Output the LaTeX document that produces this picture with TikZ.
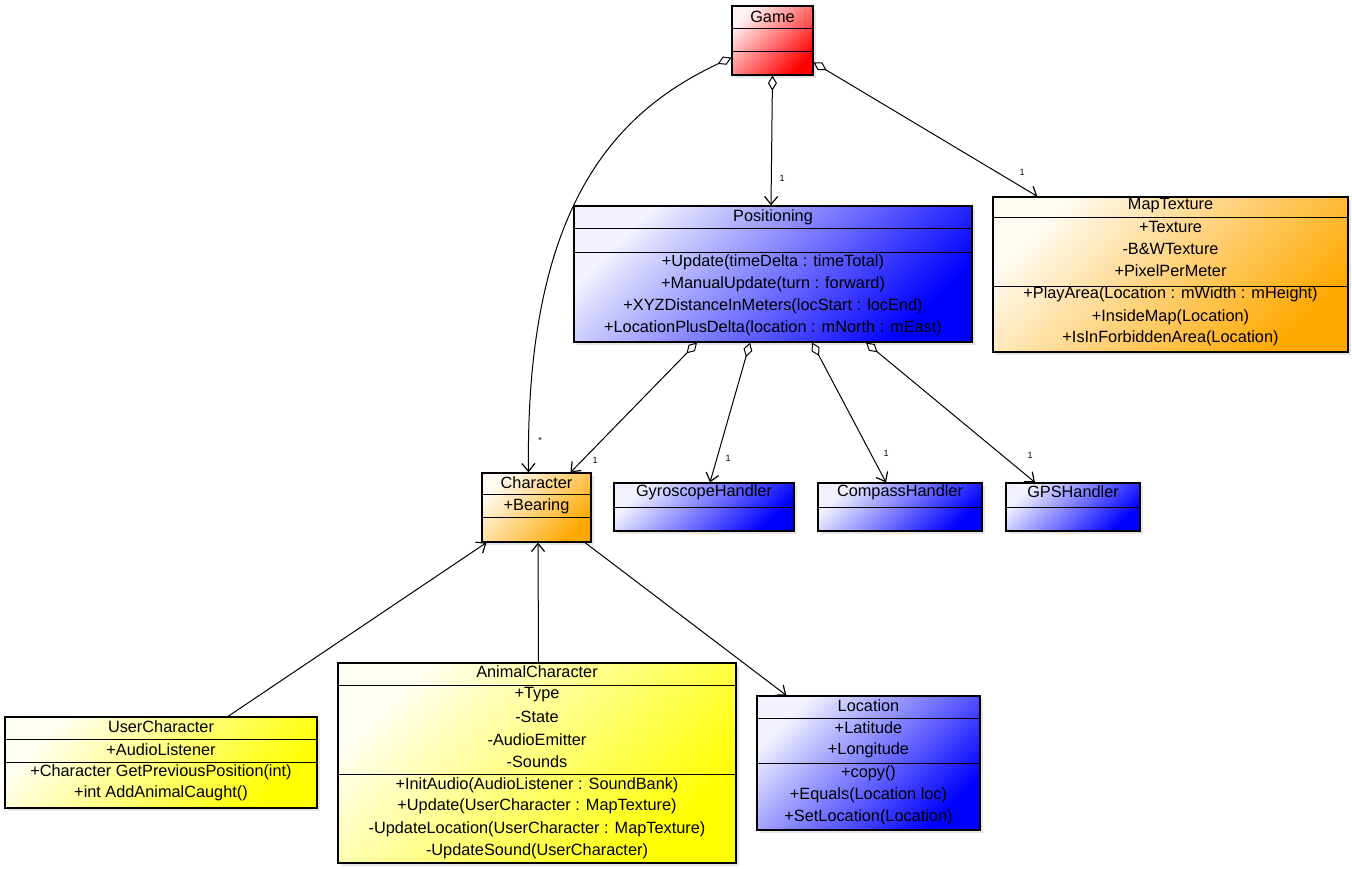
\documentclass[tikz,border=0pt]{standalone}
\usepackage{fontspec}
\setmainfont{Liberation Sans}
\usetikzlibrary{arrows.meta,shadows,calc}
\definecolor{orng}{RGB}{255,168,0}
\begin{document}
\begin{tikzpicture}[x=1pt,y=-1pt,
  cls/.style={draw=black, line width=1.2pt, inner sep=0pt,
    drop shadow={shadow xshift=3pt,shadow yshift=-3pt,opacity=0.2}},
  redcls/.style={cls, top color=red!5!white, middle color=red!62!white, bottom color=red, shading angle=45},
  bluecls/.style={cls, top color=blue!5!white, middle color=blue!62!white, bottom color=blue, shading angle=45},
  orangecls/.style={cls, top color=orng!5!white, middle color=orng!62!white, bottom color=orng, shading angle=45},
  yellowcls/.style={cls, top color=yellow!5!white, middle color=yellow!62!white, bottom color=yellow, shading angle=45},
  sep/.style={line width=1pt},
  txt/.style={inner sep=0pt, font=\fontsize{16.3}{18}\selectfont},
  mult/.style={inner sep=0pt, font=\fontsize{9}{10}\selectfont},
  rel/.style={line width=1pt, -{Straight Barb[length=8pt,width=13pt,line width=1.2pt]}},
  agg/.style={line width=1pt, {Diamond[open,length=15pt,width=9pt,line width=1pt]}-{Straight Barb[length=8pt,width=13pt,line width=1.2pt]}}
]
\useasboundingbox (0,0) rectangle (1352,869);

% Game
\node[redcls, minimum width=81, minimum height=69] (game) at (772.5,40.5) {};
\draw[sep] (game.west |- 0,29) -- (game.east |- 0,29);
\draw[sep] (game.west |- 0,52) -- (game.east |- 0,52);
\node[txt] (gameT) at (772.5,17) {Game};

% Positioning
\node[bluecls, minimum width=398, minimum height=136] (pos) at (773,274) {};
\draw[sep] (pos.west |- 0,229) -- (pos.east |- 0,229);
\draw[sep] (pos.west |- 0,252) -- (pos.east |- 0,252);
\node[txt] (posT) at (773,217) {Positioning};
\node[txt] (posM1) at (773,262) {+Update(timeDelta : timeTotal)};
\node[txt] (posM2) at (773,284) {+ManualUpdate(turn : forward)};
\node[txt] (posM3) at (773,306) {+XYZDistanceInMeters(locStart : locEnd)};
\node[txt] (posM4) at (773,328) {+LocationPlusDelta(location : mNorth : mEast)};

% MapTexture
\node[orangecls, minimum width=355, minimum height=155] (map) at (1170.5,274.5) {};
\draw[sep] (map.west |- 0,218) -- (map.east |- 0,218);
\draw[sep] (map.west |- 0,286) -- (map.east |- 0,286);
\node[txt] (mapT) at (1170.5,206) {MapTexture};
\node[txt] (mapA1) at (1170.5,227) {+Texture};
\node[txt] (mapA2) at (1170.5,249) {-B\&WTexture};
\node[txt] (mapA3) at (1170.5,271) {+PixelPerMeter};
\node[txt] (mapM1) at (1170.5,294) {+PlayArea(Location : mWidth : mHeight)};
\node[txt] (mapM2) at (1170.5,317) {+InsideMap(Location)};
\node[txt] (mapM3) at (1170.5,338) {+IsInForbiddenArea(Location)};

% Character
\node[orangecls, minimum width=109, minimum height=69] (char) at (536.5,507.5) {};
\draw[sep] (char.west |- 0,494) -- (char.east |- 0,494);
\draw[sep] (char.west |- 0,517) -- (char.east |- 0,517);
\node[txt] (charT) at (536.5,483) {Character};
\node[txt] (charA1) at (536.5,506) {+Bearing};

% Handlers
\node[bluecls, minimum width=180, minimum height=48] (gyro) at (704,507) {};
\draw[sep] (gyro.west |- 0,507) -- (gyro.east |- 0,507);
\node[txt] (gyroT) at (704,492) {GyroscopeHandler};

\node[bluecls, minimum width=164, minimum height=48] (comp) at (900,507) {};
\draw[sep] (comp.west |- 0,507) -- (comp.east |- 0,507);
\node[txt] (compT) at (900,492) {CompassHandler};

\node[bluecls, minimum width=134, minimum height=48] (gps) at (1073,507) {};
\draw[sep] (gps.west |- 0,507) -- (gps.east |- 0,507);
\node[txt] (gpsT) at (1073,492) {GPSHandler};

% UserCharacter
\node[yellowcls, minimum width=312, minimum height=91] (user) at (161,762.5) {};
\draw[sep] (user.west |- 0,739) -- (user.east |- 0,739);
\draw[sep] (user.west |- 0,762) -- (user.east |- 0,762);
\node[txt] (userT) at (161,727) {UserCharacter};
\node[txt] (userA1) at (161,750) {+AudioListener};
\node[txt] (userM1) at (161,772) {+Character GetPreviousPosition(int)};
\node[txt] (userM2) at (161,793) {+int AddAnimalCaught()};

% AnimalCharacter
\node[yellowcls, minimum width=398, minimum height=200] (animal) at (537,763) {};
\draw[sep] (animal.west |- 0,685) -- (animal.east |- 0,685);
\draw[sep] (animal.west |- 0,774) -- (animal.east |- 0,774);
\node[txt] (animalT) at (537,672) {AnimalCharacter};
\node[txt] (animalA1) at (537,695) {+Type};
\node[txt] (animalA2) at (537,717) {-State};
\node[txt] (animalA3) at (537,740) {-AudioEmitter};
\node[txt] (animalA4) at (537,762) {-Sounds};
\node[txt] (animalM1) at (537,785) {+InitAudio(AudioListener : SoundBank)};
\node[txt] (animalM2) at (537,806) {+Update(UserCharacter : MapTexture)};
\node[txt] (animalM3) at (537,829) {-UpdateLocation(UserCharacter : MapTexture)};
\node[txt] (animalM4) at (537,851) {-UpdateSound(UserCharacter)};

% Location
\node[bluecls, minimum width=223, minimum height=134] (loc) at (868.5,763) {};
\draw[sep] (loc.west |- 0,718) -- (loc.east |- 0,718);
\draw[sep] (loc.west |- 0,763) -- (loc.east |- 0,763);
\node[txt] (locT) at (868.5,706) {Location};
\node[txt] (locA1) at (868.5,728) {+Latitude};
\node[txt] (locA2) at (868.5,750) {+Longitude};
\node[txt] (locM1) at (868.5,773) {+copy()};
\node[txt] (locM2) at (868.5,795) {+Equals(Location loc)};
\node[txt] (locM3) at (868.5,817) {+SetLocation(Location)};

% Connectors
\draw[agg] ([yshift=-17]game.west) .. controls (620,110) and (525,200) .. ([xshift=-8]char.north);
\draw[agg] (game.south) -- ([xshift=-2]pos.north);
\draw[agg] ([yshift=-22]game.east) -- ([xshift=45]map.north west);
\draw[agg] ([xshift=-76]pos.south) -- ([xshift=34]char.north);
\draw[agg] ([xshift=-23]pos.south) -- ([xshift=6]gyro.north);
\draw[agg] ([xshift=39]pos.south) -- ([xshift=-14]comp.north);
\draw[agg] ([xshift=93]pos.south) -- ([xshift=-38]gps.north);
\draw[rel] ([xshift=67]user.north) -- ([xshift=-50]char.south);
\draw[rel] ([xshift=1.5]animal.north) -- ([xshift=1.5]char.south);
\draw[rel] ([xshift=48.5]char.south) -- ([xshift=30]loc.north west);

% Multiplicities
\node[mult] (m1) at (540,440) {*};
\node[mult] (m2) at (595,460) {1};
\node[mult] (m3) at (728,458) {1};
\node[mult] (m4) at (886,453) {1};
\node[mult] (m5) at (1030,455) {1};
\node[mult] (m6) at (782,178) {1};
\node[mult] (m7) at (1022,172) {1};
\end{tikzpicture}
\end{document}
